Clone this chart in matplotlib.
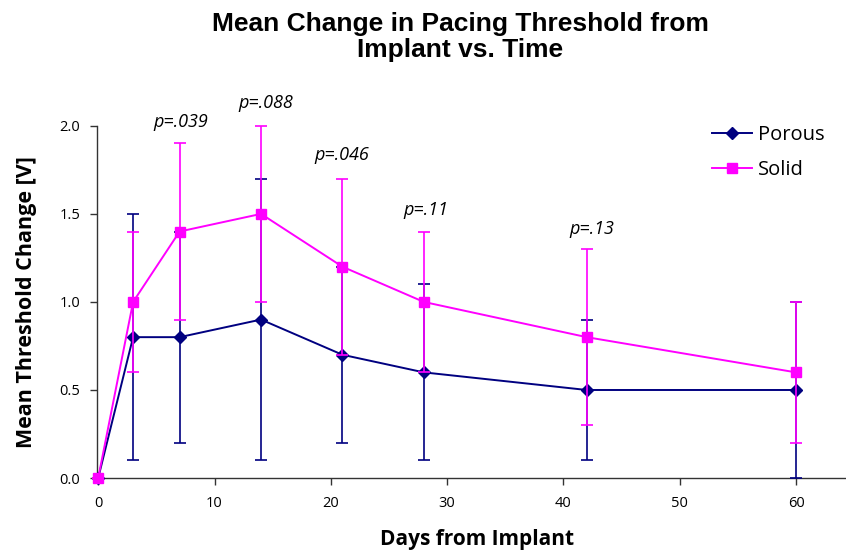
import matplotlib
matplotlib.use("Agg")
import matplotlib.pyplot as plt
from matplotlib.lines import Line2D
from matplotlib.ticker import FormatStrFormatter

days = [0, 3, 7, 14, 21, 28, 42, 60]
porous_mean = [0.0, 0.8, 0.8, 0.9, 0.7, 0.6, 0.5, 0.5]
porous_err = [0.0, 0.7, 0.6, 0.8, 0.5, 0.5, 0.4, 0.5]
solid_mean = [0.0, 1.0, 1.4, 1.5, 1.2, 1.0, 0.8, 0.6]
solid_err = [0.0, 0.4, 0.5, 0.5, 0.5, 0.4, 0.5, 0.4]

p_labels = ["p=.039", "p=.088", "p=.046", "p=.11", "p=.13"]
p_x = [7.1, 14.4, 20.9, 28.2, 42.4]
p_y = [2.02, 2.13, 1.835, 1.52, 1.415]

x_ticks = [0, 10, 20, 30, 40, 50, 60]
y_ticks = [0.0, 0.5, 1.0, 1.5, 2.0]

sans = ["Open Sans", "DejaVu Sans"]
navy = "#000080"
magenta = "#FF00FF"

fig = plt.figure(figsize=(8.46, 5.52), dpi=100)
ax = fig.add_axes([0.1147, 0.134, 0.884, 0.638])

ax.errorbar(days, porous_mean, yerr=porous_err, color=navy, lw=1.4,
            marker="D", ms=6.5, ecolor=navy, elinewidth=1.2, capsize=4,
            capthick=1.2, clip_on=False, zorder=3)
ax.errorbar(days, solid_mean, yerr=solid_err, color=magenta, lw=1.4,
            marker="s", ms=7, ecolor=magenta, elinewidth=1.2, capsize=4,
            capthick=1.2, clip_on=False, zorder=4)

for txt, x, y in zip(p_labels, p_x, p_y):
    ax.text(x, y, txt, ha="center", va="center", fontsize=13,
            style="italic", family=sans, clip_on=False)

ax.set_xlim(-0.1, 64.2)
ax.set_ylim(0, 2.0)
ax.set_xticks(x_ticks)
ax.set_yticks(y_ticks)
ax.yaxis.set_major_formatter(FormatStrFormatter("%.1f"))
for s in ("top", "right"):
    ax.spines[s].set_visible(False)
for s in ("left", "bottom"):
    ax.spines[s].set_color("#333333")
    ax.spines[s].set_linewidth(1.0)
ax.tick_params(direction="out", length=5, width=1, color="#333333",
               labelsize=10.5)
ax.tick_params(axis="y", pad=7)
ax.tick_params(axis="x", pad=8)
for lab in ax.get_xticklabels() + ax.get_yticklabels():
    lab.set_family(sans)

ax.set_xlabel("Days from Implant", fontsize=15, fontweight="bold",
              family=sans, labelpad=12)
ax.xaxis.set_label_coords(0.508, -0.146)
ax.set_ylabel("Mean Threshold Change [V]", fontsize=15.5, fontweight="bold",
              family=sans, labelpad=16)

fig.suptitle("Mean Change in Pacing Threshold from\nImplant vs. Time",
             x=0.544, y=0.978, fontsize=19, fontweight="bold",
             family=["Liberation Sans", "DejaVu Sans"], linespacing=1.12)

handles = [
    Line2D([], [], color=navy, lw=1.4, marker="D", ms=6.5),
    Line2D([], [], color=magenta, lw=1.4, marker="s", ms=7),
]
fig.legend(handles, ["Porous", "Solid"], loc="upper left",
           bbox_to_anchor=(712 / 846, 1 - 125 / 552),
           bbox_transform=fig.transFigure, frameon=False,
           prop={"family": "Open Sans", "size": 14.5}, handlelength=2.0,
           handletextpad=0.3, labelspacing=0.73, borderpad=0,
           borderaxespad=0)

fig.savefig("out.png", dpi=100)
